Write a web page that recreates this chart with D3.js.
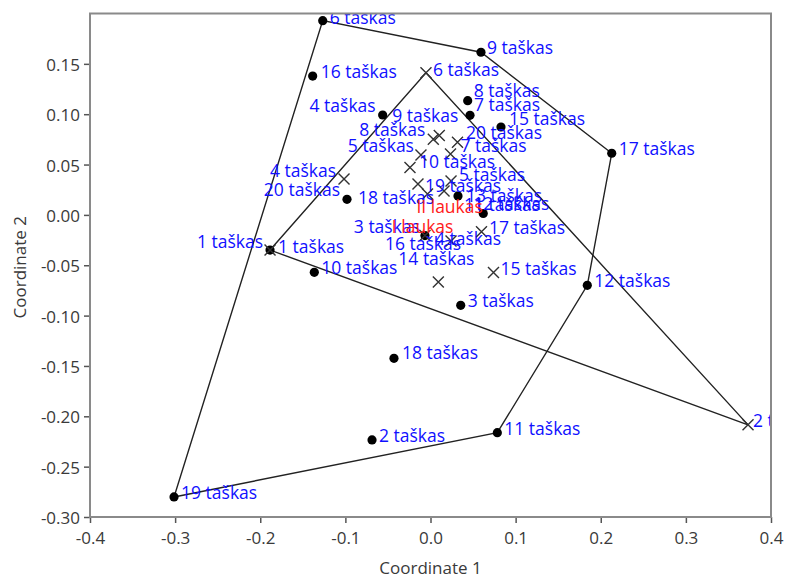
<!DOCTYPE html>
<html>
<head>
<meta charset="utf-8">
<script src="https://cdn.jsdelivr.net/npm/d3@7"></script>
<style>
  body { margin: 0; background: #fff; }
  svg { display: block; }
  text { font-family: "Open Sans", "Noto Sans", sans-serif; }
</style>
</head>
<body>
<svg id="chart" width="785" height="579"></svg>
<script>
// Axis ticks
const xTicks = [-0.4, -0.3, -0.2, -0.1, 0.0, 0.1, 0.2, 0.3, 0.4];
const yTicks = [-0.30, -0.25, -0.20, -0.15, -0.10, -0.05, 0.00, 0.05, 0.10, 0.15];

// I laukas (filled dots)
const fieldIX = [-0.1885, -0.0687, 0.0355, -0.0562, 0.0323, -0.1266, 0.0464, 0.0437, 0.0593, -0.1365,
                 0.0785, 0.1842, 0.0620, -0.0065, 0.0828, -0.1384, 0.2129, -0.0429, -0.3013, -0.0981];
const fieldIY = [-0.0349, -0.2235, -0.0898, 0.0992, 0.0188, 0.1929, 0.0989, 0.1134, 0.1615, -0.0570,
                 -0.2163, -0.0699, 0.0014, -0.0205, 0.0873, 0.1379, 0.0612, -0.1424, -0.2801, 0.0155];
const fieldILabels = ["1 taškas", "2 taškas", "3 taškas", "4 taškas", "13 taškas", "6 taškas", "7 taškas",
                      "8 taškas", "9 taškas", "10 taškas", "11 taškas", "12 taškas", "12 taškas", "3 taškas",
                      "15 taškas", "16 taškas", "17 taškas", "18 taškas", "19 taškas", "20 taškas"];

// II laukas (crosses)
const fieldIIX = [-0.1885, 0.3730, -0.0065, -0.1016, 0.0241, -0.0053, 0.0235, 0.0033, 0.0103, -0.0241,
                  0.0159, -0.0035, 0.0241, 0.0092, 0.0740, 0.0599, -0.0147, 0.0317, -0.0112];
const fieldIIY = [-0.0349, -0.2085, -0.0205, 0.0357, 0.0337, 0.1412, 0.0605, 0.0751, 0.0788, 0.0471,
                  0.0237, 0.0208, -0.0259, -0.0666, -0.0572, -0.0167, 0.0307, 0.0722, 0.0595];
const fieldIILabels = ["1 taškas", "2 taškas", "16 taškas", "4 taškas", "5 taškas", "6 taškas", "7 taškas",
                       "8 taškas", "9 taškas", "10 taškas", "11 taškas", "18 taškas", "4 taškas", "14 taškas",
                       "15 taškas", "17 taškas", "19 taškas", "20 taškas", "5 taškas"];

const groupNames = ["I laukas", "II laukas"];

// ---- layout ----
const W = 785, H = 579;
const plot = { left: 90, right: 771, top: 13.5, bottom: 517 };

const x = d3.scaleLinear().domain([-0.4, 0.4]).range([plot.left, plot.right]);
const y = d3.scaleLinear().domain([-0.3, 0.2]).range([plot.bottom, plot.top]);

const svg = d3.select("#chart");

svg.append("defs").append("clipPath").attr("id", "plotClip")
  .append("rect")
  .attr("x", plot.left).attr("y", plot.top)
  .attr("width", plot.right - plot.left).attr("height", plot.bottom - plot.top);

const groups = [
  { name: groupNames[0], xs: fieldIX, ys: fieldIY, labels: fieldILabels, marker: "dot" },
  { name: groupNames[1], xs: fieldIIX, ys: fieldIIY, labels: fieldIILabels, marker: "cross" }
].map(g => ({ ...g, pts: g.xs.map((v, i) => ({ x: v, y: g.ys[i], label: g.labels[i], i })) }));

// label placement relative to the marker: [dx, dy, anchor]
const labelPlace = [
  { 0: [8, -4], 3: [-7, -10, "end"], 4: [8, -1], 5: [7, -4], 6: [4, -11], 7: [6, -11], 8: [6, -5.5],
    12: [-10, -10], 13: [-5, -10, "end"], 14: [8, -9], 15: [8, -5.5], 17: [8, -6], 19: [-7, -10, "end"] },
  { 0: [-7, -9, "end"], 1: [5, -5], 2: [-40, 7.5], 3: [-8, -9, "end"], 4: [8, -7], 5: [7, -4], 6: [10, -9],
    7: [-8, -10, "end"], 8: [-47, -20.5], 9: [9, -6.5], 10: [20, 13], 11: [-69.5, 3], 12: [-16, -3],
    13: [-40, -24], 15: [7.5, -5], 16: [7, 1], 17: [8.5, -10], 18: [-7, -10, "end"] }
];
const defaultPlace = [7, -5, "start"];

const inner = svg.append("g").attr("clip-path", "url(#plotClip)");

// convex hulls
groups.forEach(g => {
  const hull = d3.polygonHull(g.pts.map(p => [x(p.x), y(p.y)]));
  inner.append("path")
    .attr("d", "M" + hull.map(p => p.join(",")).join("L") + "Z")
    .attr("fill", "none")
    .attr("stroke", "#222")
    .attr("stroke-width", 1.4);
});

// markers
const crossSize = 5.5;
groups.forEach(g => {
  if (g.marker === "dot") {
    inner.append("g").selectAll("circle").data(g.pts).join("circle")
      .attr("cx", d => x(d.x)).attr("cy", d => y(d.y))
      .attr("r", 4.6).attr("fill", "#000");
  } else {
    inner.append("g").selectAll("path").data(g.pts).join("path")
      .attr("d", d => {
        const cx = x(d.x), cy = y(d.y), s = crossSize;
        return `M${cx - s},${cy - s}L${cx + s},${cy + s}M${cx - s},${cy + s}L${cx + s},${cy - s}`;
      })
      .attr("stroke", "#333").attr("stroke-width", 1.4).attr("fill", "none");
  }
});

// point labels
groups.forEach((g, gi) => {
  inner.append("g").selectAll("text").data(g.pts).join("text")
    .each(function (d) {
      const p = labelPlace[gi][d.i] || defaultPlace;
      d3.select(this)
        .attr("x", x(d.x) + p[0])
        .attr("y", y(d.y) + p[1])
        .attr("text-anchor", p[2] || "start");
    })
    .attr("dominant-baseline", "central")
    .attr("font-size", 17.5)
    .attr("fill", "#1010ff")
    .text(d => d.label);
});

// group names at each group's centroid
groups.forEach(g => {
  const cx = d3.mean(g.pts, p => p.x), cy = d3.mean(g.pts, p => p.y);
  inner.append("text")
    .attr("x", x(cx) + 6).attr("y", y(cy) + 4)
    .attr("text-anchor", "middle")
    .attr("dominant-baseline", "central")
    .attr("font-size", 17.5)
    .attr("fill", "#ff1a1a")
    .text(g.name);
});

// axes
const fmtX = d => d.toFixed(1);
const fmtY = d => d.toFixed(2);

const xAxis = svg.append("g").attr("transform", `translate(0,${plot.bottom})`)
  .call(d3.axisBottom(x).tickValues(xTicks).tickFormat(fmtX).tickSize(6).tickSizeOuter(0));
const yAxis = svg.append("g").attr("transform", `translate(${plot.left},0)`)
  .call(d3.axisLeft(y).tickValues(yTicks).tickFormat(fmtY).tickSize(6).tickSizeOuter(0));

[xAxis, yAxis].forEach(a => {
  a.select(".domain").remove();
  a.selectAll(".tick line").attr("stroke", "#555").attr("stroke-width", 1.5);
  a.selectAll(".tick text").attr("fill", "#3a3a3a").attr("font-size", 17)
    .attr("font-family", "\"Open Sans\", \"Noto Sans\", sans-serif");
});
xAxis.selectAll(".tick text").attr("dy", null).attr("y", 20).attr("dominant-baseline", "central");
yAxis.selectAll(".tick text").attr("x", -10).attr("dy", null).attr("dominant-baseline", "central");

// frame
svg.append("rect")
  .attr("x", plot.left).attr("y", plot.top)
  .attr("width", plot.right - plot.left).attr("height", plot.bottom - plot.top)
  .attr("fill", "none").attr("stroke", "#8a8a8a").attr("stroke-width", 2);

// axis titles
svg.append("text")
  .attr("x", (plot.left + plot.right) / 2).attr("y", 567)
  .attr("text-anchor", "middle").attr("dominant-baseline", "central")
  .attr("font-size", 17).attr("fill", "#3a3a3a")
  .text("Coordinate 1");
svg.append("text")
  .attr("transform", `translate(19,${(plot.top + plot.bottom) / 2 + 2}) rotate(-90)`)
  .attr("text-anchor", "middle").attr("dominant-baseline", "central")
  .attr("font-size", 17).attr("fill", "#3a3a3a")
  .text("Coordinate 2");
</script>
</body>
</html>
